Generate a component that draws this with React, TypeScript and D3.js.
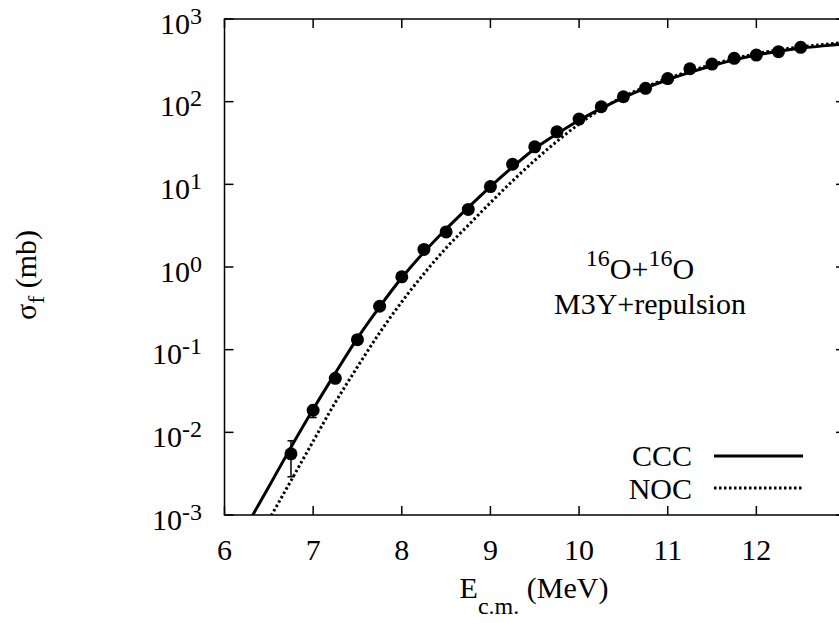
import React from "react";
import * as d3 from "d3";

// Experimental fusion cross sections (mb)
const expEnergy = [6.75, 7.0, 7.25, 7.5, 7.75, 8.0, 8.25, 8.5, 8.75, 9.0, 9.25, 9.5, 9.75, 10.0, 10.25, 10.5, 10.75, 11.0, 11.25, 11.5, 11.75, 12.0, 12.25, 12.5];
const expSigma = [0.0055, 0.0185, 0.045, 0.132, 0.335, 0.76, 1.63, 2.66, 4.97, 9.4, 17.5, 28.4, 43.2, 61.6, 86.8, 114.6, 145, 190, 250, 285, 334, 366, 402, 454];
const expErrLow: (number | null)[] = [0.0029, 0.0151, null, null, null, null, null, null, null, null, null, null, null, null, null, null, null, null, null, null, null, null, null, null];
const expErrHigh: (number | null)[] = [0.0079, 0.0212, null, null, null, null, null, null, null, null, null, null, null, null, null, null, null, null, null, null, null, null, null, null];

// CCC calculation (solid)
const cccEnergy = [6.25, 6.5, 6.75, 7.0, 7.25, 7.5, 7.75, 8.0, 8.25, 8.5, 8.75, 9.0, 9.25, 9.5, 9.75, 10.0, 10.25, 10.5, 10.75, 11.0, 11.25, 11.5, 11.75, 12.0, 12.25, 12.5, 12.75, 13.0];
const cccSigma = [0.00074, 0.0022, 0.0066, 0.019, 0.052, 0.138, 0.33, 0.74, 1.51, 2.88, 5.25, 9.4, 16.2, 26.9, 40.7, 59.6, 83, 112, 146, 184, 226, 272, 320, 367, 407, 442, 473, 501];

// No-coupling calculation (dotted)
const nocEnergy = [6.5, 6.75, 7.0, 7.25, 7.5, 7.75, 8.0, 8.25, 8.5, 8.75, 9.0, 9.25, 9.5, 9.75, 10.0, 10.25, 10.5, 10.75, 11.0, 11.25, 11.5, 11.75, 12.0, 12.25, 12.5, 12.75, 13.0];
const nocSigma = [0.00087, 0.0026, 0.0078, 0.023, 0.062, 0.16, 0.38, 0.83, 1.7, 3.2, 6.0, 11.0, 19.5, 33.1, 53.7, 81.3, 115, 151, 191, 234, 282, 331, 380, 424, 460, 492, 520];

const xTicks = [6, 7, 8, 9, 10, 11, 12, 13];
const xTickLabels = ["6", "7", "8", "9", "10", "11", "12", ""];
const yTickExponents = [-3, -2, -1, 0, 1, 2, 3];

const W = 839;
const H = 623;
const left = 224.5;
const right = 845;
const top = 19;
const bottom = 515;
const FONT = "Liberation Serif, DejaVu Serif, serif";

export default function App() {
  const x = d3.scaleLinear().domain([6, 13]).range([left, right]);
  const y = d3.scaleLog().domain([1e-3, 1e3]).range([bottom, top]);

  const line = d3
    .line<[number, number]>()
    .x((d) => x(d[0]))
    .y((d) => y(d[1]))
    .curve(d3.curveMonotoneX);

  const cccPath = line(cccEnergy.map((e, i) => [e, cccSigma[i]] as [number, number])) || "";
  const nocPath = line(nocEnergy.map((e, i) => [e, nocSigma[i]] as [number, number])) || "";

  const tickLen = 9;

  return (
    <svg
      width={W}
      height={H}
      style={{ position: "absolute", left: 0, top: 0, background: "#fff" }}
    >
      <defs>
        <clipPath id="plotClip">
          <rect x={left} y={top} width={right - left} height={bottom - top} />
        </clipPath>
      </defs>
      <rect x={0} y={0} width={W} height={H} fill="#fff" />

      <g fontFamily={FONT} fill="#000">
        {/* ticks */}
        {xTicks.map((t, i) => (
          <g key={"xt" + t}>
            <line x1={x(t)} x2={x(t)} y1={bottom} y2={bottom - tickLen} stroke="#000" strokeWidth={1.5} />
            <line x1={x(t)} x2={x(t)} y1={top} y2={top + tickLen} stroke="#000" strokeWidth={1.5} />
            {xTickLabels[i] !== "" && (
              <text x={x(t)} y={560} fontSize={30} textAnchor="middle" fontFamily={FONT}>
                {xTickLabels[i]}
              </text>
            )}
          </g>
        ))}
        {yTickExponents.map((p) => {
          const yy = y(Math.pow(10, p));
          return (
            <g key={"yt" + p}>
              <line x1={left} x2={left + tickLen} y1={yy} y2={yy} stroke="#000" strokeWidth={1.5} />
              <line x1={right} x2={right - tickLen} y1={yy} y2={yy} stroke="#000" strokeWidth={1.5} />
              <text x={202} y={yy + 14.5} fontSize={30} textAnchor="end" fontFamily={FONT}>
                <tspan>10</tspan>
                <tspan dy={-10} fontSize={24}>
                  {String(p)}
                </tspan>
              </text>
            </g>
          );
        })}

        {/* annotation */}
        <text x={640} y={279} fontSize={30} textAnchor="middle" fontFamily={FONT}>
          <tspan dy={-13} fontSize={24}>16</tspan>
          <tspan dy={13}>O+</tspan>
          <tspan dy={-13} fontSize={24}>16</tspan>
          <tspan dy={13}>O</tspan>
        </text>
        <text x={650} y={314} fontSize={30} textAnchor="middle" fontFamily={FONT}>
          M3Y+repulsion
        </text>

        {/* legend */}
        <text x={692} y={466} fontSize={30} textAnchor="end" fontFamily={FONT}>CCC</text>
        <text x={692} y={499} fontSize={30} textAnchor="end" fontFamily={FONT}>NOC</text>

        {/* axis labels */}
        <text x={534} y={598} fontSize={30} textAnchor="middle" fontFamily={FONT}>
          <tspan>E</tspan>
          <tspan dy={16} fontSize={24}>c.m.</tspan>
          <tspan dy={-16}> (MeV)</tspan>
        </text>
        <text transform="translate(36,275) rotate(-90)" fontSize={30} textAnchor="middle" fontFamily={FONT}>
          <tspan>σ</tspan>
          <tspan dy={8} fontSize={24}>f</tspan>
          <tspan dy={-8}> (mb)</tspan>
        </text>
      </g>

      {/* border */}
      <rect x={left} y={top} width={right - left} height={bottom - top} fill="none" stroke="#000" strokeWidth={1.5} />

      {/* curves */}
      <g clipPath="url(#plotClip)">
        <path d={cccPath} fill="none" stroke="#000" strokeWidth={3} />
        <path d={nocPath} fill="none" stroke="#000" strokeWidth={3} strokeDasharray="2.5,2.5" />
      </g>

      {/* legend lines */}
      <line x1={714} x2={803} y1={456} y2={456} stroke="#000" strokeWidth={3} />
      <line x1={714} x2={803} y1={488} y2={488} stroke="#000" strokeWidth={3} strokeDasharray="2.5,2.5" />

      {/* data points */}
      <g>
        {expEnergy.map((e, i) => {
          const lo = expErrLow[i];
          const hi = expErrHigh[i];
          return (
            <g key={"p" + i}>
              {lo !== null && hi !== null && (
                <g stroke="#000" strokeWidth={1.5}>
                  <line x1={x(e)} x2={x(e)} y1={y(lo)} y2={y(hi)} />
                  <line x1={x(e) - 3.5} x2={x(e) + 3.5} y1={y(lo)} y2={y(lo)} />
                  <line x1={x(e) - 3.5} x2={x(e) + 3.5} y1={y(hi)} y2={y(hi)} />
                </g>
              )}
              <circle cx={x(e)} cy={y(expSigma[i])} r={6.5} fill="#000" />
            </g>
          );
        })}
      </g>
    </svg>
  );
}
